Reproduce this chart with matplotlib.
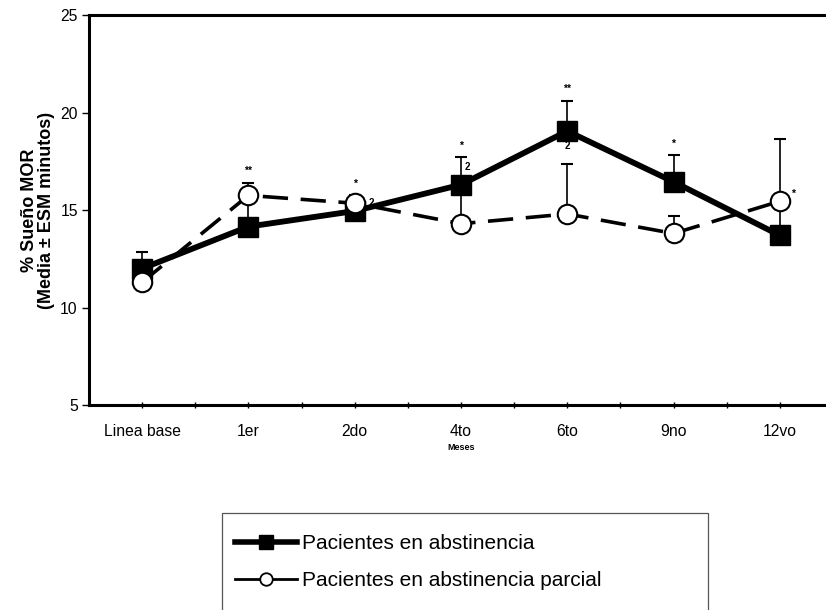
import numpy as np
import matplotlib.pyplot as plt
from matplotlib.lines import Line2D
from matplotlib.patches import Rectangle

plt.rcParams['font.family'] = ['Liberation Sans', 'DejaVu Sans']

# Data
meses = ['Linea base', '1er', '2do', '4to', '6to', '9no', '12vo']
abstinencia = [12.0, 14.15, 14.95, 16.3, 19.05, 16.45, 13.7]
abstinencia_err = [0.85, 1.2, 0.6, 1.4, 1.55, 1.35, 1.4]
parcial = [11.3, 15.75, 15.35, 14.3, 14.8, 13.8, 15.45]
parcial_err = [0.4, 0.65, 0.4, 1.6, 2.55, 0.9, 3.2]
signif = ['', '**', '*', '*', '**', '*', '']
signif_12vo = '*'

x = np.arange(len(meses))
zeros = np.zeros(len(meses))

fig = plt.figure(figsize=(8.26, 6.10), dpi=100)
ax = fig.add_axes([0.1077, 0.336, 0.9007, 0.6393])

# abstinencia (filled squares, thick solid line)
ax.errorbar(x, abstinencia, yerr=[zeros, abstinencia_err], fmt='none',
            ecolor='black', elinewidth=1.2, capsize=4, capthick=1.5, zorder=2)
ax.plot(x, abstinencia, color='black', lw=4.2, marker='s', markersize=15,
        markerfacecolor='black', markeredgecolor='black', zorder=3)

# abstinencia parcial (open circles, dashed line)
ax.errorbar(x, parcial, yerr=[zeros, parcial_err], fmt='none',
            ecolor='black', elinewidth=1.2, capsize=4, capthick=1.5, zorder=4)
ax.plot(x, parcial, color='black', lw=2.6, dashes=(7, 3.5), zorder=4)
ax.plot(x, parcial, linestyle='none', marker='o', markersize=14,
        markerfacecolor='white', markeredgecolor='black', markeredgewidth=1.5, zorder=5)

# significance marks above the highest error bar
for i, s in enumerate(signif):
    if not s:
        continue
    top = max(abstinencia[i] + abstinencia_err[i], parcial[i] + parcial_err[i])
    ax.annotate(s, (x[i], top), xytext=(0, 5), textcoords='offset points',
                ha='center', va='bottom', fontsize=7.5, fontweight='bold')
ax.annotate(signif_12vo, (x[6], parcial[6]), xytext=(8, 2), textcoords='offset points',
            ha='left', va='bottom', fontsize=7.5, fontweight='bold')

# footnote marks "2"
ax.annotate('2', (x[2], parcial[2]), xytext=(10, 0), textcoords='offset points',
            ha='left', va='center', fontsize=7, fontweight='bold')
ax.annotate('2', (x[3], abstinencia[3] + abstinencia_err[3]), xytext=(3, -7),
            textcoords='offset points', ha='left', va='center', fontsize=7, fontweight='bold')
ax.annotate('2', (x[4], abstinencia[4]), xytext=(0, -11), textcoords='offset points',
            ha='center', va='center', fontsize=7, fontweight='bold')

ax.set_xlim(-0.5, 6.5)
ax.set_ylim(5, 25)
ax.set_yticks([5, 10, 15, 20, 25])
ax.set_xticks(x)
ax.set_xticklabels(meses)
ax.set_xticks(x[:-1] + 0.5, minor=True)
ax.tick_params(axis='x', which='both', direction='inout', length=5, width=1, pad=11, labelsize=11.3)
ax.tick_params(axis='y', direction='out', length=5, width=1, labelsize=11.3, pad=3)

for side in ['left', 'bottom', 'top']:
    ax.spines[side].set_linewidth(2.2)
ax.spines['right'].set_visible(False)

ax.set_xlabel('Meses', fontsize=6.5, fontweight='bold', labelpad=3)
ax.set_ylabel('% Sueño MOR\n(Media ± ESM minutos)', fontsize=13, fontweight='bold',
              labelpad=4, linespacing=1.0)

# legend in a separate box below the plot
fig.patches.append(Rectangle((0.2688, -0.01), 0.588, 0.1695, transform=fig.transFigure,
                             fill=False, edgecolor='#555555', linewidth=0.9))
handles = [
    Line2D([], [], color='black', lw=4, marker='s', markersize=10),
    Line2D([], [], color='black', lw=2, marker='o', markersize=9,
           markerfacecolor='white', markeredgewidth=1.3),
]
fig.legend(handles, ['Pacientes en abstinencia', 'Pacientes en abstinencia parcial'],
           loc='upper left', bbox_to_anchor=(0.2845, 0.124), frameon=False,
           fontsize=15, handlelength=3.0, handletextpad=0.2, borderpad=0,
           borderaxespad=0, labelspacing=0.85)

fig.savefig('out.png', dpi=100)
